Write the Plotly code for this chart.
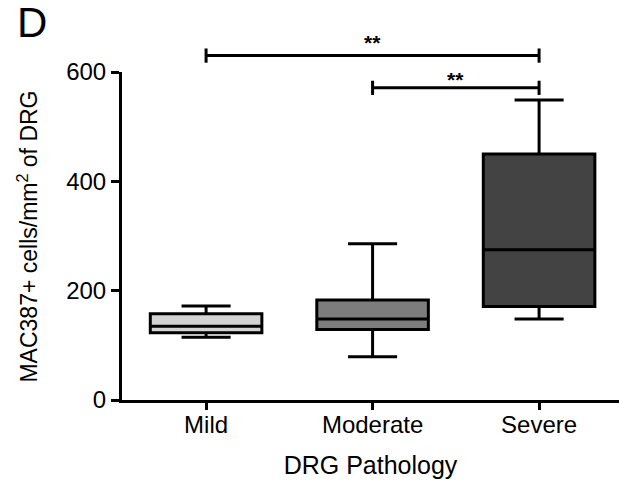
import plotly.graph_objects as go

categories = ["Mild", "Moderate", "Severe"]
lower_whisker = [115, 79, 148]
q1 = [123, 129, 171]
median = [135, 148, 275]
q3 = [158, 183, 450]
upper_whisker = [172, 286, 549]
fill_colors = ["#d3d3d3", "#7d7d7d", "#434343"]

# significance brackets: (from category, to category, bracket value, label value, text)
brackets = [
    ("Mild", "Severe", 630, 679, "**"),
    ("Moderate", "Severe", 571, 611, "**"),
]

y_ticks = [0, 200, 400, 600]
y_range = [0, 600]
x_range = [-0.505, 2.48]

FONT = "Liberation Sans, Arial, sans-serif"
LW = 3

fig = go.Figure()
for i, cat in enumerate(categories):
    fig.add_trace(go.Box(
        x=[cat],
        q1=[q1[i]], median=[median[i]], q3=[q3[i]],
        lowerfence=[lower_whisker[i]], upperfence=[upper_whisker[i]],
        fillcolor=fill_colors[i],
        line=dict(color="black", width=LW),
        width=0.67,
        whiskerwidth=0.44,
        boxpoints=False,
        showlegend=False,
        hoverinfo="skip",
    ))

def ypaper(v):
    return (v - y_range[0]) / (y_range[1] - y_range[0])

tick_half = 13  # data units for bracket end ticks
for a, b, yv, tv, txt in brackets:
    xa = categories.index(a)
    xb = categories.index(b)
    fig.add_shape(type="line", xref="x", yref="paper", x0=xa, x1=xb,
                  y0=ypaper(yv), y1=ypaper(yv), line=dict(color="black", width=LW))
    for xe in (xa, xb):
        fig.add_shape(type="line", xref="x", yref="paper", x0=xe, x1=xe,
                      y0=ypaper(yv - tick_half), y1=ypaper(yv + tick_half),
                      line=dict(color="black", width=LW))
    fig.add_annotation(x=(xa + xb) / 2, y=ypaper(tv), xref="x", yref="paper",
                       text="<b>" + txt + "</b>", showarrow=False,
                       font=dict(family=FONT, size=21, color="black"))

fig.add_annotation(x=-0.215, y=1.15, xref="paper", yref="paper", text="D",
                   showarrow=False, xanchor="left", yanchor="middle",
                   font=dict(family=FONT, size=42, color="black"))

# y-axis title as rotated annotation for precise placement
fig.add_annotation(x=-0.19, y=0.497, xref="paper", yref="paper",
                   text="MAC387+ cells/mm<sup>2</sup> of DRG", textangle=-90,
                   showarrow=False, xanchor="center", yanchor="middle",
                   font=dict(family=FONT, size=23, color="black"))

fig.update_layout(
    width=619, height=489,
    margin=dict(l=122, r=0, t=72, b=89),
    paper_bgcolor="white", plot_bgcolor="white",
    font=dict(family=FONT, size=24, color="black"),
    xaxis=dict(
        type="category", categoryorder="array", categoryarray=categories,
        range=x_range, showgrid=False, zeroline=False,
        showline=True, linecolor="black", linewidth=LW,
        ticks="outside", ticklen=7, tickwidth=2.5, tickcolor="black",
        ticklabelstandoff=-6,
        tickfont=dict(family=FONT, size=24, color="black"),
        title=dict(text="DRG Pathology", font=dict(family=FONT, size=25, color="black"), standoff=20),
    ),
    yaxis=dict(
        range=y_range, tickvals=y_ticks, showgrid=False, zeroline=False,
        showline=True, linecolor="black", linewidth=LW,
        ticks="outside", ticklen=8, tickwidth=2.5, tickcolor="black",
        tickfont=dict(family=FONT, size=24, color="black"),
    ),
)

fig.write_html("out.html")
